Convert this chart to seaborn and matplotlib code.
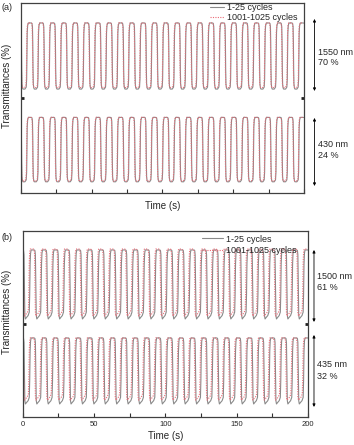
import numpy as np
import pandas as pd
import matplotlib
matplotlib.use("Agg")
import matplotlib.pyplot as plt
from matplotlib.lines import Line2D
import seaborn as sns

# ---------------- data ----------------
cycle_start = [0, 8, 16, 24, 32, 40, 48, 56, 64, 72, 80, 88, 96, 104, 112,
               120, 128, 136, 144, 152, 160, 168, 176, 184, 192]
# one switching cycle (s within the cycle, fraction of the contrast)
shape_a_t = [0.0, 0.3, 0.5, 0.7, 0.9, 1.2, 1.6, 3.0, 3.9, 4.2, 4.4, 4.6, 4.9, 5.4, 6.2, 7.3, 7.7]
shape_a_v = [0.99, 0.94, 0.72, 0.30, 0.08, 0.02, 0.0, 0.0, 0.03, 0.15, 0.55, 0.85, 0.96, 1.0, 1.0, 1.0, 0.998]
shape_b_t = [0.0, 0.3, 0.5, 0.7, 0.9, 1.3, 2.0, 3.2, 4.0, 4.3, 4.6, 4.9, 5.3, 6.0, 7.3, 7.7]
shape_b_v = [0.99, 0.93, 0.60, 0.20, 0.05, 0.0, 0.02, 0.05, 0.10, 0.35, 0.80, 0.95, 1.0, 1.0, 1.0, 0.998]

series_names = ["1-25 cycles", "1001-1025 cycles"]
# panel (a): display levels (high, low) for upper (1550 nm) and lower (430 nm) traces
a_upper_high = [89.5, 89.5]
a_upper_low = [54.7, 55.5]
a_lower_high = [39.8, 39.8]
a_lower_low = [5.9, 6.3]
a_shift = [0.0, -0.2]
# panel (b): 1500 nm and 435 nm
b_upper_high = [89.8, 90.3]
b_upper_low = [52.7, 54.3]
b_lower_high = [42.5, 42.5]
b_lower_low = [7.0, 9.1]
b_shift = [0.6, 0.0]

a_labels = [("1550 nm", "70 %"), ("430 nm", "24 %")]
b_labels = [("1500 nm", "61 %"), ("435 nm", "32 %")]
x_ticks = [0, 50, 100, 150, 200]
x_minor = [25, 75, 125, 175]


def build(shape_t, shape_v, high, low, shift, name, trace):
    t, v = [], []
    for c0 in cycle_start:
        for st, sv in zip(shape_t, shape_v):
            t.append(c0 + st + shift)
            v.append(low + sv * (high - low))
    return pd.DataFrame({"time": t, "value": v, "series": name, "trace": trace})


def panel_df(shape_t, shape_v, uh, ul, lh, ll, shifts):
    frames = []
    for i, name in enumerate(series_names):
        frames.append(build(shape_t, shape_v, uh[i], ul[i], shifts[i], name, "upper"))
        frames.append(build(shape_t, shape_v, lh[i], ll[i], shifts[i], name, "lower"))
    return pd.concat(frames, ignore_index=True)


df_a = panel_df(shape_a_t, shape_a_v, a_upper_high, a_upper_low,
                a_lower_high, a_lower_low, a_shift)
df_b = panel_df(shape_b_t, shape_b_v, b_upper_high, b_upper_low,
                b_lower_high, b_lower_low, b_shift)

# ---------------- styling ----------------
sns.set_theme(style="ticks")
plt.rcParams["font.family"] = ["Liberation Sans", "DejaVu Sans"]
plt.rcParams["axes.linewidth"] = 0.9

W, H = 354, 445
fig = plt.figure(figsize=(W / 100, H / 100), dpi=100)


def px_axes(l, t, r, b):
    return fig.add_axes([l / W, 1 - b / H, (r - l) / W, (b - t) / H])


ax_a = px_axes(20.7, 3, 304, 193)
ax_b = px_axes(22.7, 231, 308, 417)

gray = "#8a8a8a"
red = "#eb6a76"
styles = [(gray, "-"), (red, (0, (1, 1.2)))]


def draw(ax, df):
    for name, (col, ls) in zip(series_names, styles):
        sub = df[df["series"] == name]
        sns.lineplot(data=sub, x="time", y="value", units="trace", estimator=None,
                     sort=False, color=col, lw=0.8, ax=ax, linestyle=ls, legend=False)
    ax.set_xlim(0, 200)
    ax.set_ylim(0, 100)
    ax.set_xticks(x_ticks)
    ax.set_xticks(x_minor, minor=True)
    ax.set_yticks([50])
    ax.tick_params(axis="y", which="both", direction="in", length=2, width=2,
                   left=True, right=True, labelleft=False, color="#202020")
    ax.tick_params(axis="x", which="both", direction="in", length=3, width=0.8,
                   color="#303030", labelsize=5.5, pad=3)
    for s in ax.spines.values():
        s.set_color("#404040")
        s.set_linewidth(0.9)
    ax.set_ylabel("Transmittances (%)", fontsize=7)
    handles = [Line2D([], [], color=c, lw=0.8, linestyle=ls) for c, ls in styles]
    return handles, series_names


h, l = draw(ax_a, df_a)
ax_a.tick_params(axis="x", labelbottom=False)
ax_a.set_xlabel("Time (s)", fontsize=7, labelpad=3)
ax_a.legend(h, l, loc="upper left", bbox_to_anchor=(0.655, 1.02), frameon=False,
            fontsize=6.5, handlelength=1.6, handletextpad=0.3, labelspacing=0.15,
            borderaxespad=0)
ax_a.yaxis.set_label_coords(-0.03, 0.563)

h, l = draw(ax_b, df_b)
ax_b.set_xlabel("Time (s)", fontsize=7, labelpad=2)
ax_b.legend(h, l, loc="upper left", bbox_to_anchor=(0.615, 1.0), frameon=False,
            fontsize=6.5, handlelength=2.4, handletextpad=0.3, labelspacing=0.3,
            borderaxespad=0)
ax_b.yaxis.set_label_coords(-0.0375, 0.565)


def arrows(ax, ax_x, txt_x, spans, labels, txt_y):
    tr = ax.get_yaxis_transform()
    for (y1, y2), (t1, t2), (ty1, ty2) in zip(spans, labels, txt_y):
        ax.annotate("", xy=(ax_x, y1), xytext=(ax_x, y2), xycoords=tr, textcoords=tr,
                    arrowprops=dict(arrowstyle="<|-|>", color="black", lw=0.6,
                                    mutation_scale=4, shrinkA=0, shrinkB=0),
                    annotation_clip=False)
        ax.text(txt_x, ty1, t1, transform=tr, fontsize=6.5, va="center", ha="left")
        ax.text(txt_x, ty2, t2, transform=tr, fontsize=6.5, va="center", ha="left")


arrows(ax_a, 1.037, 1.049, [(91.6, 53.7), (39.5, 3.7)], a_labels,
       [(74.2, 68.9), (25.3, 20.0)])
arrows(ax_b, 1.021, 1.031, [(89.8, 51.1), (44.1, 5.4)], b_labels,
       [(75.3, 69.4), (28.0, 22.0)])

fig.text(2 / W, 1 - 7 / H, "(a)", fontsize=6.5, va="center", ha="left")
fig.text(2 / W, 1 - 238 / H, "(b)", fontsize=6.5, va="center", ha="left")

fig.savefig("out.png", dpi=100)
